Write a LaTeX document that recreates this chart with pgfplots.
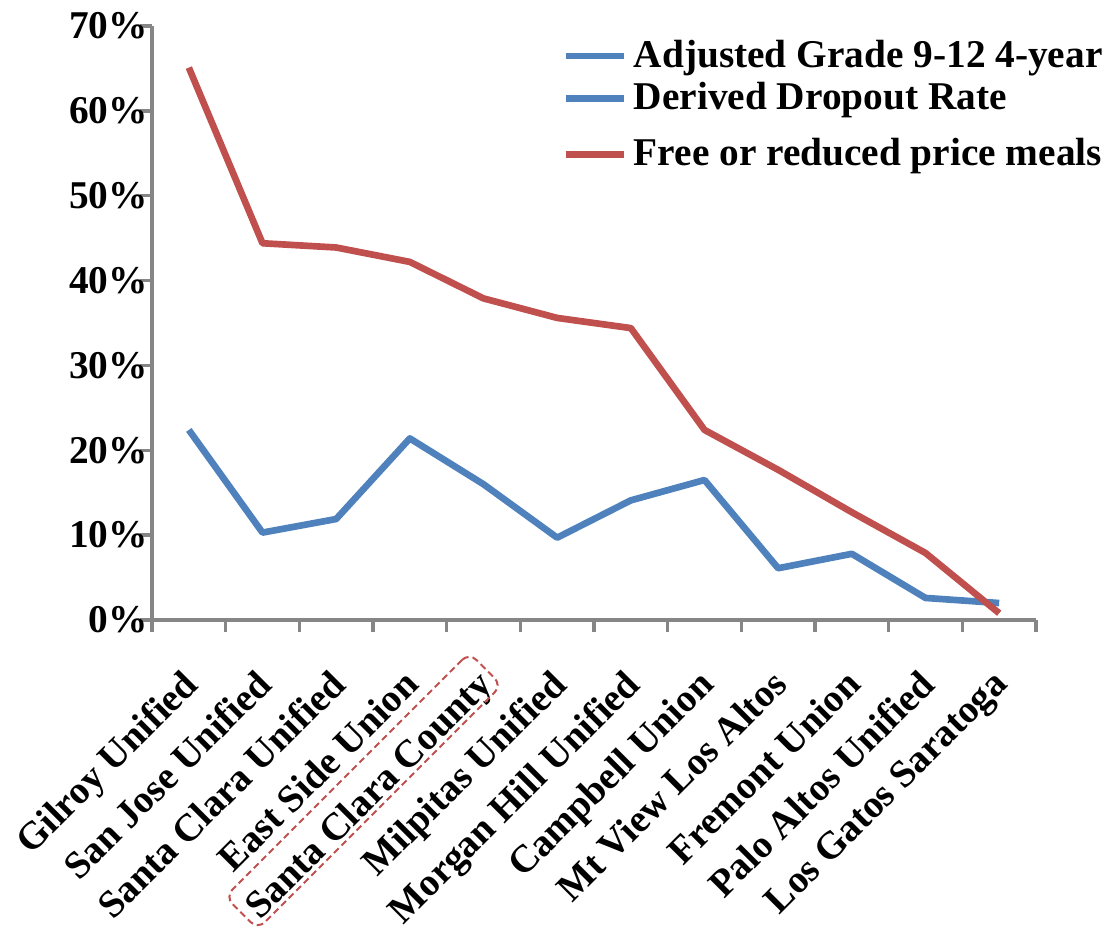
\documentclass[border=0pt]{standalone}
\usepackage{fontspec}
\setmainfont{Liberation Serif}
\usepackage{pgfplots}
\pgfplotsset{compat=1.18}
\usetikzlibrary{calc}
\definecolor{serA}{HTML}{4F81BD}
\definecolor{serB}{HTML}{C0504D}
\definecolor{axgray}{HTML}{868686}
\pgfplotsset{mlleg/.style={legend image code/.code={\path (0pt,-6.4pt) -- (17.5pt,-6.4pt); \draw[##1, line width=2pt] (0pt,6.4pt) -- (17.5pt,6.4pt);}}}
\begin{document}
\begin{tikzpicture}
\begin{axis}[
  at={(0,0)}, anchor=south west,
  scale only axis, width=265.2pt, height=178.2pt,
  xmin=-0.5, xmax=11.5, ymin=0, ymax=70,
  axis x line*=bottom, axis y line*=left,
  axis line style={axgray, line width=1pt},
  xtick={0,...,11},
  xticklabels={Gilroy Unified, San Jose Unified, Santa Clara Unified, East Side Union, Santa Clara County, Milpitas Unified, Morgan Hill Unified, Campbell Union, Mt View Los Altos, Fremont Union, Palo Altos Unified, Los Gatos Saratoga},
  minor xtick={-0.5,0.5,...,11.5},
  major x tick style={draw=none},
  ytick={0,10,...,70},
  yticklabel={\pgfmathprintnumber{\tick}\%},
  /pgf/number format/assume math mode=true,
  tick align=outside,
  tick style={axgray, line width=1pt},
  major tick length=3.6pt, minor tick length=3.6pt,
  x tick label style={xshift=-2.4pt, yshift=-9pt, rotate=45, anchor=north east, font=\bfseries\fontsize{11.6}{13}\selectfont, inner sep=1pt},
  y tick label style={xshift=3.6pt, font=\bfseries\fontsize{11.8}{13}\selectfont, inner sep=1pt},
  legend style={at={(0.452,1.0)}, anchor=north west, draw=none, fill=none,
    font=\bfseries\fontsize{11.8}{12.8}\selectfont, cells={anchor=west, align=left}, row sep=3pt},
  legend cell align=left,
  legend image code/.code={\draw[#1, line width=2pt] (0pt,0pt) -- (17.5pt,0pt);},
  clip=false,
]
\addplot[serA, line width=2pt, line join=round, mark=none, mlleg] coordinates {
 (0,22.4) (1,10.3) (2,11.9) (3,21.4) (4,16.0) (5,9.7) (6,14.1) (7,16.5) (8,6.1) (9,7.8) (10,2.6) (11,2.0)};
\addlegendentry{Adjusted Grade 9-12 4-year\\Derived Dropout Rate}
\addplot[serB, line width=2pt, line join=round, mark=none] coordinates {
 (0,65.1) (1,44.4) (2,43.9) (3,42.2) (4,37.9) (5,35.6) (6,34.4) (7,22.4) (8,17.7) (9,12.7) (10,7.9) (11,0.8)};
\addlegendentry{Free or reduced price meals}
\node[draw=serB, dash pattern=on 2pt off 1.2pt, rounded corners=3pt, line width=0.6pt, rotate=45, minimum width=103.5pt, minimum height=13.8pt] at ($(axis cs:4,0)+(-36pt,-51.3pt)$) {};
\end{axis}
\pgfresetboundingbox
\path[use as bounding box] (-45.6pt,-92.7pt) rectangle (289.2pt,186pt);
\end{tikzpicture}
\end{document}
